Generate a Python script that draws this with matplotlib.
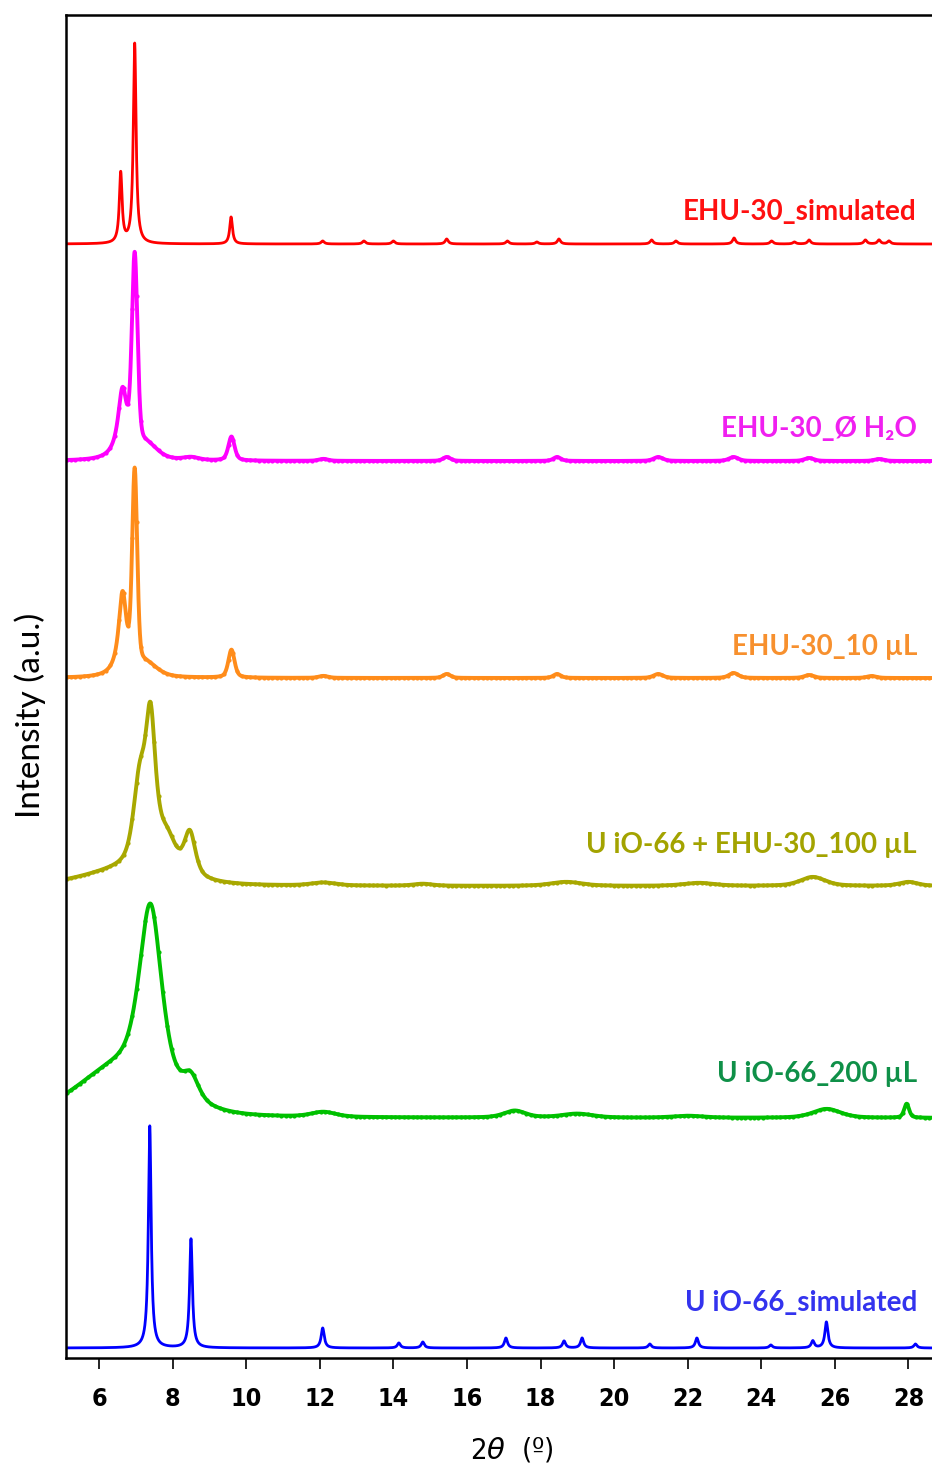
import numpy as np
import matplotlib
matplotlib.use("Agg")
import matplotlib.pyplot as plt

# --- peak tables (2theta, height above base, hwhm, lorentz fraction)
red_pos = [6.59, 6.97, 9.59, 12.08, 13.2, 14.0, 15.45, 17.1, 17.9, 18.5, 21.02, 21.68, 23.26, 24.28, 24.9, 25.3, 26.83, 27.2, 27.47]
red_hgt = [70, 200, 27, 3, 3, 3, 5, 3, 2, 5, 4, 3, 6, 3, 2, 4, 4, 4, 3]
red_wid = [0.045, 0.045, 0.045] + [0.05] * 16
red_eta = [1.0] * 19
red_base = 1114

mag_pos = [6.64, 6.97, 7.30, 8.50, 9.60, 12.1, 15.45, 18.45, 21.2, 23.25, 25.3, 27.2]
mag_hgt = [68, 190, 14, 3, 24, 2, 4, 4, 4, 4, 3, 2]
mag_wid = [0.15, 0.09, 0.35, 0.25, 0.10, 0.15, 0.12, 0.12, 0.15, 0.15, 0.15, 0.15]
mag_eta = [1.0, 0.3, 0.5, 0.5, 0.5, 0.5, 0.5, 0.5, 0.5, 0.5, 0.5, 0.5]
mag_base = 897

ora_pos = [6.64, 6.97, 7.30, 9.60, 12.1, 15.45, 18.45, 21.2, 23.25, 25.3, 27.0]
ora_hgt = [82, 193, 12, 28, 2, 4, 4, 4, 5, 3, 2]
ora_wid = [0.13, 0.08, 0.35, 0.10, 0.15, 0.12, 0.12, 0.15, 0.15, 0.15, 0.15]
ora_eta = [1.0, 0.3, 0.5, 0.5, 0.5, 0.5, 0.5, 0.5, 0.5, 0.5, 0.5]
ora_base = 680

oli_pos = [6.8, 7.10, 7.40, 7.85, 8.47, 12.1, 14.8, 18.7, 22.3, 25.4, 28.0]
oli_hgt = [15, 75, 142, 30, 43, 3, 2, 4, 3, 9, 4]
oli_wid = [1.4, 0.20, 0.17, 0.30, 0.18, 0.4, 0.3, 0.5, 0.5, 0.4, 0.3]
oli_eta = [0.2, 0.6, 0.8, 0.5, 0.6, 0.5, 0.5, 0.5, 0.5, 0.5, 0.5]
oli_base = 472

grn_pos = [6.6, 7.40, 8.50, 12.1, 17.3, 19.0, 22.0, 25.78, 27.95]
grn_hgt = [48, 176, 22, 5, 7, 4, 2, 9, 14]
grn_wid = [1.4, 0.36, 0.25, 0.4, 0.35, 0.5, 0.5, 0.45, 0.08]
grn_eta = [0.2, 0.6, 0.5, 0.5, 0.5, 0.5, 0.5, 0.5, 0.5]
grn_base = 240

blu_pos = [7.38, 8.50, 12.08, 14.15, 14.8, 17.06, 18.64, 19.13, 20.97, 22.25, 24.26, 25.4, 25.77, 28.19]
blu_hgt = [222, 109, 20, 5, 6, 10, 7, 10, 4, 10, 3, 7, 26, 4]
blu_wid = [0.045, 0.045] + [0.05] * 12
blu_eta = [1.0] * 14
blu_base = 10

labels = ["EHU-30_simulated", "EHU-30_\u00d8 H\u2082O", "EHU-30_10 \u00b5L",
          "U iO-66 + EHU-30_100 \u00b5L", "U iO-66_200 \u00b5L", "U iO-66_simulated"]
label_y = [1146, 929, 711, 513, 284, 55]
line_colors = ["#ff0000", "#ff00ff", "#ff8c1a", "#a8a800", "#00c000", "#0000ff"]
text_colors = ["#ff1010", "#f020f0", "#f7902e", "#a3a300", "#0f9048", "#3333ee"]
xticks = [6, 8, 10, 12, 14, 16, 18, 20, 22, 24, 26, 28]


def profile(x, pos, hgt, wid, eta):
    y = np.zeros_like(x)
    for p, h, w, e in zip(pos, hgt, wid, eta):
        u = ((x - p) / w) ** 2
        y += h * (e / (1 + u) + (1 - e) * np.exp(-np.log(2) * u))
    return y


x = np.linspace(5.0, 28.8, 8000)
patterns = [
    (red_pos, red_hgt, red_wid, red_eta, red_base, False),
    (mag_pos, mag_hgt, mag_wid, mag_eta, mag_base, True),
    (ora_pos, ora_hgt, ora_wid, ora_eta, ora_base, True),
    (oli_pos, oli_hgt, oli_wid, oli_eta, oli_base, True),
    (grn_pos, grn_hgt, grn_wid, grn_eta, grn_base, True),
    (blu_pos, blu_hgt, blu_wid, blu_eta, blu_base, False),
]

fig = plt.figure(figsize=(9.32, 14.70), dpi=100)
ax = fig.add_axes([65.7 / 932, 1 - 1358 / 1470, 1 - 65.7 / 932, 1343 / 1470])

for (pos, hgt, wid, eta, base, meas), col in zip(patterns, line_colors):
    y = base + profile(x, pos, hgt, wid, eta)
    if meas:
        ax.plot(x, y, color=col, lw=2.8, marker='.', ms=4, markevery=40)
    else:
        ax.plot(x, y, color=col, lw=2.0)

for lab, ly, tc in zip(labels, label_y, text_colors):
    ax.text(28.23, ly, lab, color=tc, ha='right', va='center', fontsize=20,
            fontweight='bold', family=['Lato', 'DejaVu Sans'])

ax.set_xlim(5.095, 28.64)
ax.set_ylim(0, 1343)
ax.set_yticks([])
ax.set_xticks(xticks)
ax.set_xticklabels([str(t) for t in xticks], fontsize=18, fontweight='bold',
                   family='DejaVu Sans', fontstretch='condensed')
ax.tick_params(axis='x', direction='out', length=8, width=1.2, pad=13)
ax.spines['right'].set_visible(False)
for s in ['left', 'top', 'bottom']:
    ax.spines[s].set_linewidth(1.8)

fig.text(30 / 932, 1 - 715 / 1470, "Intensity (a.u.)", rotation=90, ha='center', va='center',
         fontsize=24, family=['Lato', 'DejaVu Sans'])
fig.text(512 / 932, 1 - 1450 / 1470, r"2$\theta$  (º)", ha='center', va='center',
         fontsize=21, family='DejaVu Sans', fontstretch='condensed')

fig.savefig("out.png", dpi=100)
